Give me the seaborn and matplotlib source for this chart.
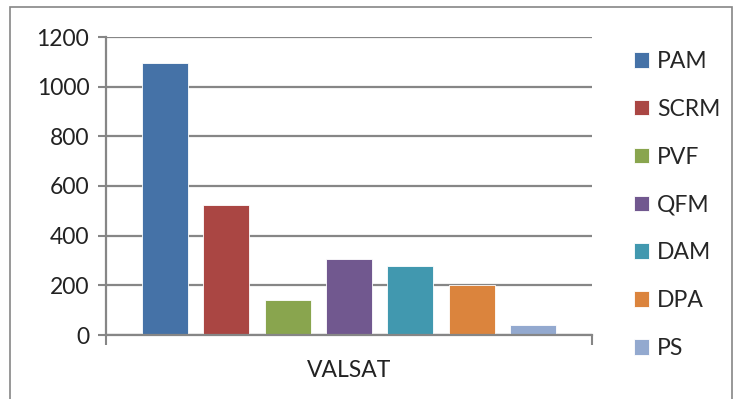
import matplotlib
matplotlib.use("Agg")
import matplotlib.pyplot as plt
import seaborn as sns
import pandas as pd
from matplotlib.patches import Rectangle

categories = ["VALSAT"]
methods = ["PAM", "SCRM", "PVF", "QFM", "DAM", "DPA", "PS"]
values = [1095, 525, 142, 307, 277, 203, 40]
colors = ["#4572A7", "#AA4643", "#89A54E", "#71588F", "#4198AF", "#DB843D", "#93A9CF"]
yticks = [0, 200, 400, 600, 800, 1000, 1200]

df = pd.DataFrame({"group": categories * len(methods), "method": methods, "value": values})

sns.set_theme(style="white")
plt.rcParams["font.family"] = ["Lato", "DejaVu Sans"]

W, H = 735, 399
fig = plt.figure(figsize=(W / 100, H / 100), dpi=100)
fig.patch.set_facecolor("white")

# outer chart border
fig.patches.append(Rectangle((10 / W, -0.05), (732 - 10) / W, 1.05 - 7 / H,
                             transform=fig.transFigure, fill=False,
                             edgecolor="#868686", linewidth=1.2))

left, right, top, bottom = 106, 592, 37, 335
ax = fig.add_axes([left / W, 1 - bottom / H, (right - left) / W, (bottom - top) / H])

sns.barplot(data=df, x="group", y="value", hue="method", hue_order=methods,
            palette=colors, width=0.885, gap=0.25, ax=ax, legend=True,
            edgecolor="white", linewidth=0.6, saturation=1)

ax.set_xlim(-0.5, 0.5)
ax.set_ylim(0, 1200)
ax.set_yticks(yticks)
ax.set_yticklabels([str(v) for v in yticks], fontsize=16.5, color="#222222")
ax.set_xticks([-0.5, 0.5], minor=False)
ax.set_xticklabels(["", ""])
ax.set_xticks([0.0], minor=True)
ax.set_xticklabels(categories, minor=True, fontsize=16.5, color="#222222")
ax.tick_params(axis="x", which="minor", length=0, pad=18)
ax.tick_params(axis="x", which="major", direction="out", length=7, width=1.5,
               color="#868686", bottom=True)
ax.tick_params(axis="y", direction="out", length=6, width=1.5, color="#868686",
               left=True, pad=6)
ax.set_xlabel("")
ax.set_ylabel("")

ax.grid(axis="y", color="#868686", linewidth=1.6)
ax.set_axisbelow(True)
for s in ["top", "right"]:
    ax.spines[s].set_visible(False)
for s in ["left", "bottom"]:
    ax.spines[s].set_color("#868686")
    ax.spines[s].set_linewidth(1.6)

handles, labels = ax.get_legend_handles_labels()
ax.get_legend().remove()
fig.legend(handles, labels, loc="upper left", bbox_to_anchor=(634 / W, 1 - 51 / H),
           frameon=False, fontsize=16.5, handlelength=0.66, handleheight=0.66,
           handletextpad=0.35, labelspacing=1.17, borderpad=0, borderaxespad=0)

fig.savefig("out.png", dpi=100)
